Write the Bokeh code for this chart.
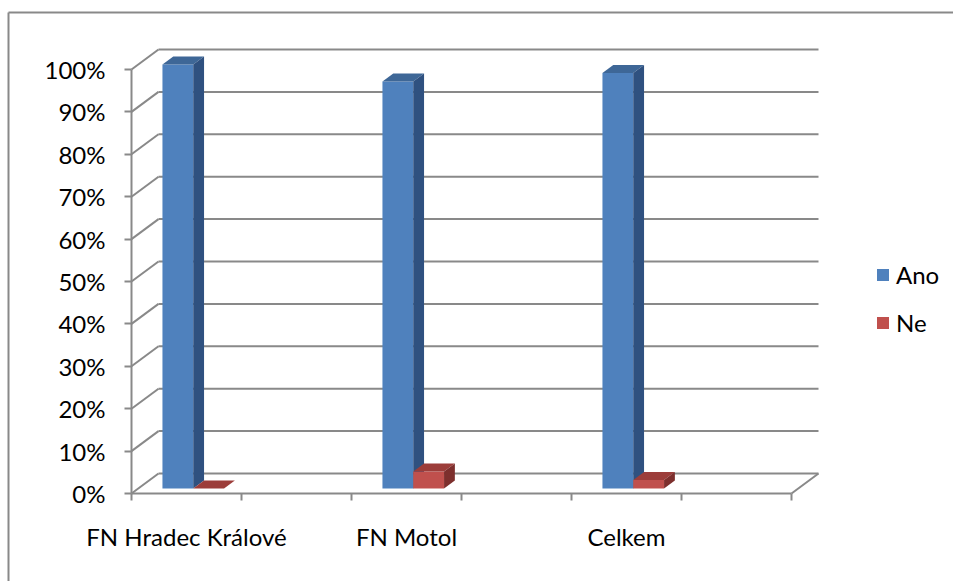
from bokeh.plotting import figure
from bokeh.models import (FixedTicker, PrintfTickFormatter, Legend, LegendItem, Range1d)
from bokeh.embed import file_html
from bokeh.resources import INLINE

# ---- data ----
categories = ["FN Hradec Králové", "FN Motol", "Celkem"]
series_names = ["Ano", "Ne"]
ano = [100, 96, 98]
ne = [0, 4, 2]
y_ticks = [0, 10, 20, 30, 40, 50, 60, 70, 80, 90, 100]

# ---- layout / style ----
FONT = "Lato"
W, H = 953, 581
ORIGIN_X, ORIGIN_Y = 131, 493          # page pixel of data point (0, 0%)
BORDER_X, BORDER_Y = 8, 12             # outer chart border (page pixels)
PX_X, PX_Y = 110.0, 4.24
DX, DY = 27 / PX_X, 20 / PX_Y          # full depth of the 3D box in data units
F0, F1 = 0.25, 0.65                    # bar front / back depth fractions
BAR_W = 0.28
GRID = "#898989"
colors = {
    "Ano": ("#4F81BD", "#3E6797", "#2F5180"),
    "Ne": ("#C0504D", "#9C3D3A", "#7D2F2D"),
}

n_slots = 2 * len(categories)
centers = [2 * i + 0.5 for i in range(len(categories))]

def px_to_x(px):
    return (px - ORIGIN_X) / PX_X

def px_to_y(py):
    return (ORIGIN_Y - py) / PX_Y

p = figure(width=W, height=H, output_backend="svg", toolbar_location=None,
           x_range=Range1d(px_to_x(0), px_to_x(W)),
           y_range=Range1d(px_to_y(H), px_to_y(0)),
           min_border=0)
p.outline_line_color = None
p.xgrid.visible = False
p.ygrid.visible = False
p.background_fill_color = "white"
p.border_fill_color = "white"

# ---- outer chart border (left and top edges; the rest is outside the picture) ----
p.segment(x0=[px_to_x(BORDER_X), px_to_x(BORDER_X)], y0=[px_to_y(BORDER_Y), px_to_y(BORDER_Y)],
          x1=[px_to_x(BORDER_X), px_to_x(W + 10)], y1=[px_to_y(H + 10), px_to_y(BORDER_Y)],
          line_color=GRID, line_width=2)

# ---- walls (back gridlines + side wall diagonals + floor edge) ----
ymax = max(y_ticks)
p.segment(x0=[DX] * len(y_ticks), y0=[t + DY for t in y_ticks],
          x1=[n_slots + DX] * len(y_ticks), y1=[t + DY for t in y_ticks],
          line_color=GRID, line_width=2)
p.segment(x0=[0] * len(y_ticks), y0=y_ticks,
          x1=[DX] * len(y_ticks), y1=[t + DY for t in y_ticks],
          line_color=GRID, line_width=2)
p.segment(x0=[n_slots], y0=[0], x1=[n_slots + DX], y1=[DY],
          line_color=GRID, line_width=2)

# ---- 3D bars ----
legend_items = []
for name, vals, off in (("Ano", ano, -BAR_W), ("Ne", ne, 0.0)):
    front_c, top_c, side_c = colors[name]
    x0 = [c + off + F0 * DX for c in centers]
    x1 = [c + off + BAR_W + F0 * DX for c in centers]
    b0 = [F0 * DY] * len(vals)
    t0 = [v + F0 * DY for v in vals]
    front = p.quad(left=x0, right=x1, bottom=b0, top=t0,
                   fill_color=front_c, line_color=None)
    ddx, ddy = (F1 - F0) * DX, (F1 - F0) * DY
    top_xs = [[a, b, b + ddx, a + ddx] for a, b in zip(x0, x1)]
    top_ys = [[t, t, t + ddy, t + ddy] for t in t0]
    p.patches(xs=top_xs, ys=top_ys, fill_color=top_c, line_color=None)
    side_xs = [[b, b + ddx, b + ddx, b] for b in x1]
    side_ys = [[bb, bb + ddy, t + ddy, t] for bb, t in zip(b0, t0)]
    p.patches(xs=side_xs, ys=side_ys, fill_color=side_c, line_color=None)
    legend_items.append(LegendItem(label=name, renderers=[front]))

# ---- axes (drawn at the data origin inside the frame) ----
ya = p.yaxis[0]
ya.fixed_location = 0
ya.ticker = FixedTicker(ticks=y_ticks, minor_ticks=[])
ya.formatter = PrintfTickFormatter(format="%d%%")
ya.bounds = (0, ymax)
ya.axis_line_color = GRID
ya.axis_line_width = 2
ya.major_tick_line_color = GRID
ya.major_tick_line_width = 2
ya.major_tick_out = 7
ya.major_tick_in = 0
ya.minor_tick_line_color = None
ya.major_label_standoff = 19
ya.major_label_text_font = FONT
ya.major_label_text_font_size = "24px"
ya.major_label_text_color = "black"

xa = p.xaxis[0]
xa.fixed_location = 0
xa.ticker = FixedTicker(ticks=centers, minor_ticks=list(range(n_slots + 1)))
xa.major_label_overrides = {c: cat for c, cat in zip(centers, categories)}
xa.bounds = (0, n_slots)
xa.axis_line_color = GRID
xa.axis_line_width = 2
xa.major_tick_line_color = None
xa.major_tick_out = 0
xa.major_tick_in = 0
xa.minor_tick_line_color = GRID
xa.minor_tick_line_width = 2
xa.minor_tick_out = 7
xa.minor_tick_in = 0
xa.major_label_standoff = 21
xa.major_label_text_font = FONT
xa.major_label_text_font_size = "24px"
xa.major_label_text_color = "black"

# ---- legend ----
legend = Legend(items=legend_items, location=(875, 244), orientation="vertical",
                glyph_width=15, glyph_height=15, label_standoff=6, spacing=19,
                padding=0, margin=0, border_line_color=None,
                background_fill_alpha=0,
                label_text_font=FONT, label_text_font_size="24px",
                label_text_color="black")
p.add_layout(legend, "center")

open("out.html", "w").write(file_html(p, INLINE))
